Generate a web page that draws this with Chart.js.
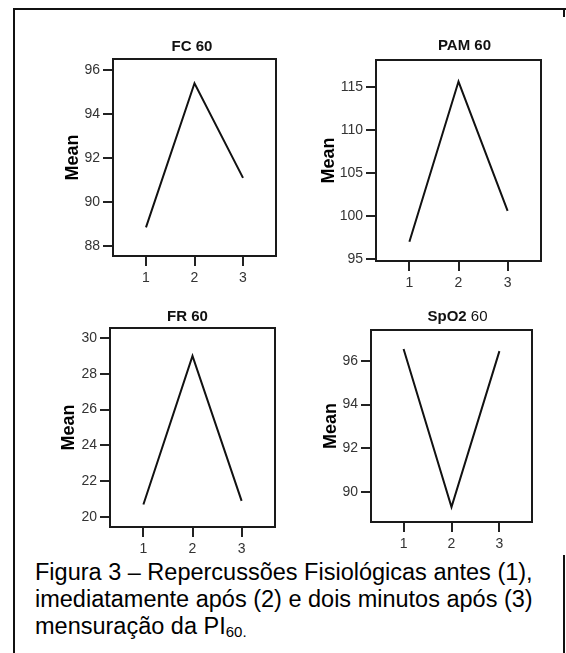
<!DOCTYPE html>
<html>
<head>
<meta charset="utf-8">
<script src="https://cdn.jsdelivr.net/npm/chart.js@4.4.0/dist/chart.umd.min.js"></script>
<style>
  body { margin: 0; background: #fff; }
  #page { position: relative; width: 566px; height: 653px; overflow: hidden; font-family: "Liberation Sans", Arial, sans-serif; }
  #page canvas { position: absolute; }
  .edge { position: absolute; background: #111; }
  #caption { position: absolute; left: 35px; top: 559px; font-size: 23.5px; line-height: 27px; color: #000; white-space: nowrap; }
  #caption .sub { font-size: 15px; position: relative; top: 3px; }
</style>
</head>
<body>
<div id="page">
  <div class="edge" style="left:13px;top:8px;width:2px;height:645px"></div>
  <div class="edge" style="left:13px;top:8px;width:553px;height:2px"></div>
  <div class="edge" style="left:563px;top:8px;width:2px;height:9px"></div>
  <div class="edge" style="left:563px;top:555px;width:2px;height:98px"></div>
  <div id="caption">Figura 3 – Repercussões Fisiológicas antes (1),<br>imediatamente após (2) e dois minutos após (3)<br>mensuração da PI<span class="sub">60.</span></div>
</div>
<script>
const xValues = [1, 2, 3];
const titles = ['FC 60', 'PAM 60', 'FR 60', 'SpO2 60'];
const fcMeans = [88.85, 95.4, 91.1];
const pamMeans = [97.0, 115.6, 100.6];
const frMeans = [20.7, 29.0, 20.9];
const spo2Means = [96.55, 89.3, 96.45];
const fcTicks = [88, 90, 92, 94, 96];
const pamTicks = [95, 100, 105, 110, 115];
const frTicks = [20, 22, 24, 26, 28, 30];
const spo2Ticks = [90, 92, 94, 96];
const yTitle = 'Mean';

const FONT = '"Liberation Sans", Arial, sans-serif';
const Y_AXIS_W = 70;
const X_AXIS_H = 32;
const TOP_PAD = 30;

// layout of each small chart: plot box [left, top, right, bottom] on the page
const panels = [
  { title: titles[0], values: fcMeans, ticks: fcTicks, min: 87.55, max: 96.5, box: [113, 59, 276, 256], meanPad: 19, titleDx: -2.5, titleDy: 13.5, boldWords: 2 },
  { title: titles[1], values: pamMeans, ticks: pamTicks, min: 94.77, max: 118.1, box: [376, 60, 541, 261], meanPad: 12.5, titleDx: 6, titleDy: 15, boldWords: 2 },
  { title: titles[2], values: frMeans, ticks: frTicks, min: 19.44, max: 30.56, box: [110, 328, 275, 527], meanPad: 18, titleDx: -5, titleDy: 12, boldWords: 2 },
  { title: titles[3], values: spo2Means, ticks: spo2Ticks, min: 88.62, max: 97.42, box: [371, 330, 532, 522], meanPad: 19.5, titleDx: 6, titleDy: 14, boldWords: 1 }
];

// box round the plot area
const framePlugin = {
  id: 'frame',
  afterDraw(chart) {
    const { ctx, chartArea: a } = chart;
    ctx.save();
    ctx.strokeStyle = '#1a1a1a';
    ctx.lineWidth = 2;
    ctx.strokeRect(a.left, a.top, a.right - a.left, a.bottom - a.top);
    ctx.restore();
  }
};

function titlePlugin(p) {
  return {
    id: 'panelTitle',
    afterDraw(chart) {
      const { ctx, chartArea: a } = chart;
      const size = 15;
      const words = p.title.split(' ');
      const rest = words.slice(p.boldWords);
      const parts = [
        { text: words.slice(0, p.boldWords).join(' '), weight: 'bold' },
        { text: rest.length ? ' ' + rest.join(' ') : '', weight: 'normal' }
      ];
      ctx.save();
      ctx.fillStyle = '#111';
      ctx.textBaseline = 'alphabetic';
      ctx.textAlign = 'left';
      let total = 0;
      parts.forEach(pt => { ctx.font = pt.weight + ' ' + size + 'px ' + FONT; pt.w = ctx.measureText(pt.text).width; total += pt.w; });
      let x = (a.left + a.right) / 2 + p.titleDx - total / 2;
      const y = a.top - p.titleDy + size * 0.358;
      parts.forEach(pt => { ctx.font = pt.weight + ' ' + size + 'px ' + FONT; ctx.fillText(pt.text, x, y); x += pt.w; });
      ctx.restore();
    }
  };
}

const page = document.getElementById('page');

panels.forEach(p => {
  const [l, t, r, b] = p.box;
  const canvas = document.createElement('canvas');
  const w = r - l + Y_AXIS_W + 4;
  const h = b - t + TOP_PAD + X_AXIS_H;
  canvas.width = w;
  canvas.height = h;
  canvas.style.left = (l - Y_AXIS_W) + 'px';
  canvas.style.top = (t - TOP_PAD) + 'px';
  canvas.style.width = w + 'px';
  canvas.style.height = h + 'px';
  page.appendChild(canvas);

  const axisGrid = { drawOnChartArea: false, tickLength: 10, color: '#222', lineWidth: 2 };

  new Chart(canvas, {
    type: 'line',
    data: {
      datasets: [{
        data: xValues.map((x, i) => ({ x: x, y: p.values[i] })),
        borderColor: '#111',
        borderWidth: 2,
        pointRadius: 0,
        tension: 0,
        fill: false
      }]
    },
    options: {
      responsive: false,
      animation: false,
      layout: { padding: { top: TOP_PAD, right: 4, left: 0, bottom: 0 } },
      plugins: { legend: { display: false }, tooltip: { enabled: false } },
      scales: {
        x: {
          type: 'linear',
          min: 0.32,
          max: 3.68,
          afterBuildTicks: s => { s.ticks = xValues.map(v => ({ value: v })); },
          afterFit: s => { s.height = X_AXIS_H; },
          grid: axisGrid,
          border: { display: false },
          ticks: { padding: 4, color: '#333', font: { family: FONT, size: 14 }, maxRotation: 0 }
        },
        y: {
          type: 'linear',
          min: p.min,
          max: p.max,
          afterBuildTicks: s => { s.ticks = p.ticks.map(v => ({ value: v })); },
          afterFit: s => { s.width = Y_AXIS_W; },
          grid: axisGrid,
          border: { display: false },
          ticks: { padding: 3, color: '#333', font: { family: FONT, size: 14 } },
          title: {
            display: true,
            text: yTitle,
            color: '#000',
            font: { family: FONT, size: 18, weight: 'bold' },
            padding: { top: p.meanPad, bottom: 0 }
          }
        }
      }
    },
    plugins: [framePlugin, titlePlugin(p)]
  });
});
</script>
</body>
</html>
